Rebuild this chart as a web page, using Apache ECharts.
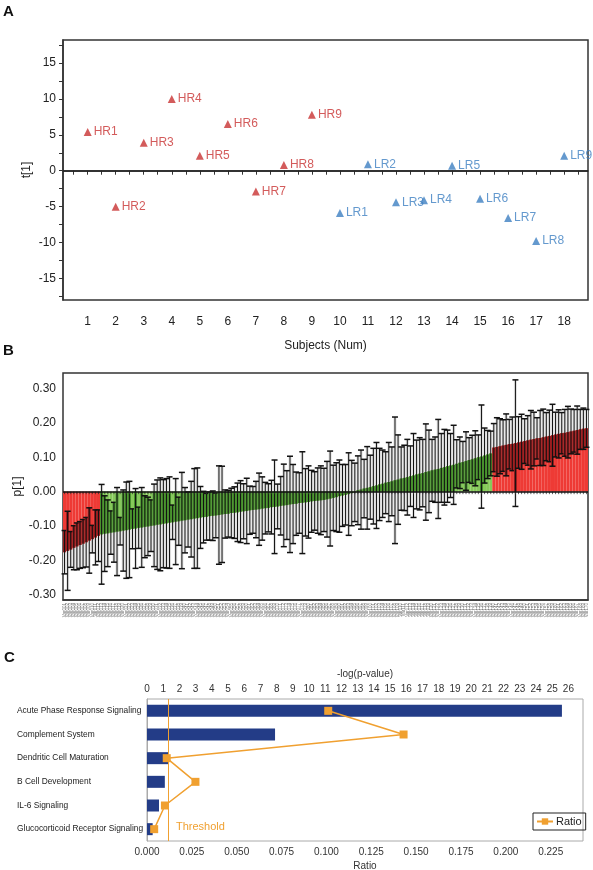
<!DOCTYPE html>
<html><head><meta charset="utf-8">
<script src="https://cdn.jsdelivr.net/npm/echarts@6/dist/echarts.min.js"></script>
<style>html,body{margin:0;padding:0;background:#fff}#c{width:593px;height:870px}</style>
</head><body><div id="c"></div>
<script>
const FONT = 'Liberation Sans, Arial, Helvetica, sans-serif';

// ---------- Panel A: scores ----------
const hrNames = ['HR1','HR2','HR3','HR4','HR5','HR6','HR7','HR8','HR9'];
const hrSubjects = [1,2,3,4,5,6,7,8,9];
const hrScores = [5.4,-5.0,3.9,10.0,2.1,6.5,-2.9,0.8,7.8];
const lrNames = ['LR1','LR2','LR3','LR4','LR5','LR6','LR7','LR8','LR9'];
const lrSubjects = [10,11,12,13,14,15,16,17,18];
const lrScores = [-5.9,0.9,-4.4,-4.1,0.7,-3.9,-6.6,-9.8,2.1];
const subjectLabels = [1,2,3,4,5,6,7,8,9,10,11,12,13,14,15,16,17,18];
const scoreLabels = [-15,-10,-5,0,5,10,15];

// ---------- Panel B: loadings ----------
const loadingValues = [
-0.176,-0.172,-0.168,-0.163,-0.159,-0.155,-0.151,-0.147,-0.142,-0.138,-0.133,-0.128,
-0.124,-0.122,-0.121,-0.119,-0.118,-0.116,-0.115,-0.113,-0.112,-0.110,-0.108,-0.107,-0.105,-0.104,-0.102,-0.101,-0.099,-0.098,-0.096,-0.095,-0.093,-0.092,-0.090,-0.089,-0.087,-0.086,-0.084,-0.083,-0.081,-0.080,-0.078,
-0.077,-0.075,-0.074,-0.073,-0.071,-0.070,-0.069,-0.068,-0.066,-0.065,-0.064,-0.062,-0.061,-0.060,-0.058,-0.057,-0.056,-0.054,-0.053,-0.052,-0.051,-0.049,-0.048,-0.047,-0.045,-0.044,-0.043,-0.041,-0.040,-0.039,-0.037,-0.036,-0.035,-0.033,-0.032,-0.031,-0.030,-0.028,-0.027,-0.026,-0.025,-0.024,
-0.022,-0.020,-0.018,-0.016,-0.013,-0.011,-0.009,-0.007,-0.004,-0.002,
0.004,0.006,0.009,0.011,0.013,0.016,0.018,0.021,0.023,0.026,0.028,0.030,0.033,0.035,0.038,0.040,0.042,0.045,0.047,0.050,0.052,0.054,0.057,0.059,0.062,0.064,0.066,0.069,0.071,0.074,0.076,0.078,
0.081,0.084,0.086,0.089,0.092,0.094,0.097,0.100,0.102,0.105,0.108,0.111,
0.128,0.130,0.132,0.134,0.136,0.138,0.139,0.141,0.143,0.145,0.147,0.149,0.151,0.153,0.155,0.156,0.158,0.160,0.162,0.164,0.166,0.168,0.170,0.171,0.173,0.175,0.177,0.179,0.181,0.183,0.184
];
const loadingErrors = [
0.063,0.115,0.052,0.064,0.068,0.068,0.070,0.072,0.095,0.040,0.080,0.075,
0.145,0.110,0.097,0.063,0.087,0.128,0.040,0.118,0.140,0.140,0.058,0.116,0.060,0.116,0.090,0.085,0.075,0.120,0.130,0.135,0.128,0.130,0.133,0.050,0.125,0.070,0.140,0.095,0.080,0.110,0.145,
0.146,0.090,0.075,0.068,0.070,0.072,0.065,0.143,0.140,0.070,0.068,0.072,0.075,0.085,0.090,0.080,0.095,0.070,0.068,0.082,0.105,0.092,0.075,0.070,0.078,0.136,0.065,0.085,0.120,0.100,0.140,0.115,0.092,0.088,0.148,0.098,0.105,0.090,0.085,0.095,0.100,0.092,
0.110,0.138,0.095,0.100,0.105,0.090,0.088,0.120,0.095,0.085,
0.100,0.115,0.085,0.120,0.093,0.110,0.125,0.105,0.098,0.090,0.115,0.100,0.184,0.130,0.092,0.095,0.110,0.088,0.122,0.100,0.105,0.098,0.140,0.120,0.090,0.095,0.144,0.100,0.110,0.105,0.093,0.115,
0.070,0.075,0.060,0.085,0.065,0.070,0.080,0.065,0.150,0.080,0.070,0.065,
0.070,0.085,0.080,0.075,0.090,0.072,0.078,0.184,0.075,0.080,0.065,0.072,0.085,0.078,0.060,0.080,0.082,0.070,0.075,0.090,0.065,0.070,0.060,0.068,0.075,0.065,0.062,0.070,0.058,0.060,0.055
];
const redLeftCount = 12;
const redRightCount = 31;
const loadingLabels = [-0.30,-0.20,-0.10,0.00,0.10,0.20,0.30];

// ---------- Panel C: pathways ----------
const pathways = ['Acute Phase Response Signaling','Complement System','Dendritic Cell Maturation','B Cell Development','IL-6 Signaling','Glucocorticoid Receptor Signaling'];
const negLogP = [25.6, 7.9, 1.3, 1.1, 0.74, 0.35];
const ratios = [0.101, 0.143, 0.011, 0.027, 0.010, 0.004];
const thresholdValue = 1.3;
const logLabels = [0,1,2,3,4,5,6,7,8,9,10,11,12,13,14,15,16,17,18,19,20,21,22,23,24,25,26];
const ratioLabels = [0,0.025,0.05,0.075,0.1,0.125,0.15,0.175,0.2,0.225];

// ---------- build ----------
const N = loadingValues.length;
const varNames = loadingValues.map((_, i) => 'Var' + String(i + 1).padStart(3, '0'));
const isRed = i => i < redLeftCount || i >= N - redRightCount;
const BRIGHT_RED = '#ee3a35', DARK_RED = '#961d1f';
const BRIGHT_GREEN = '#86c95a', DARK_GREEN = '#468f2c';

const tickA_x = []; for (let k = 1; k <= 37; k++) tickA_x.push(k * 0.5);
const tickA_y = []; for (let k = -7; k <= 7; k++) tickA_y.push(k * 2.5);
const tickB_y = []; for (let k = -15; k <= 17; k++) tickB_y.push(+(k * 0.02).toFixed(2));

const errData = loadingValues.map((v, i) => [i, v, loadingErrors[i]]);

function grayRender(params, api) {
  const i = api.value(0), v = api.value(1), e = api.value(2);
  const bw = api.size([1, 0])[0];
  const cx = api.coord([i, 0])[0];
  const yHi = api.coord([i, v + e])[1], yLo = api.coord([i, v - e])[1];
  return { type: 'rect', shape: { x: cx - bw / 2, y: yHi, width: bw, height: yLo - yHi },
           style: { fill: '#e3e3e3' } };
}
function whiskerRender(params, api) {
  const i = api.value(0), v = api.value(1), e = api.value(2);
  const lo = v - e, hi = v + e;
  const bw = api.size([1, 0])[0];
  const cx = api.coord([i, 0])[0];
  const y0 = api.coord([i, 0])[1];
  const yHi = api.coord([i, hi])[1], yLo = api.coord([i, lo])[1];
  const children = [];
  const a = Math.max(Math.min(0, v), lo), b = Math.min(Math.max(0, v), hi);
  if (b > a) {
    const ya = api.coord([i, a])[1], yb = api.coord([i, b])[1];
    children.push({ type: 'rect', shape: { x: cx - bw / 2, y: yb, width: bw, height: ya - yb },
      style: { fill: isRed(i) ? DARK_RED : DARK_GREEN } });
  }
  children.push({ type: 'line', shape: { x1: cx, y1: yHi, x2: cx, y2: yLo }, style: { stroke: '#111', lineWidth: 1 } });
  children.push({ type: 'line', shape: { x1: cx - 3, y1: yHi, x2: cx + 3, y2: yHi }, style: { stroke: '#111', lineWidth: 1.5 } });
  children.push({ type: 'line', shape: { x1: cx - 3, y1: yLo, x2: cx + 3, y2: yLo }, style: { stroke: '#111', lineWidth: 1.5 } });
  children.push({ type: 'line', shape: { x1: cx, y1: y0, x2: cx, y2: y0 + 2.5 }, style: { stroke: '#333', lineWidth: 0.8 } });
  return { type: 'group', children };
}

const axisText = { color: '#222', fontSize: 12, fontFamily: FONT };

const option = {
  animation: false,
  backgroundColor: '#fff',
  textStyle: { fontFamily: FONT },
  graphic: [
    { type: 'text', left: 3, top: 4, style: { text: 'A', font: 'bold 15px ' + FONT, fill: '#111' } },
    { type: 'text', left: 3, top: 343, style: { text: 'B', font: 'bold 15px ' + FONT, fill: '#111' } },
    { type: 'text', left: 4, top: 650, style: { text: 'C', font: 'bold 15px ' + FONT, fill: '#111' } },
    { type: 'text', left: 176, top: 821, style: { text: 'Threshold', font: '11px ' + FONT, fill: '#f0a030' } }
  ],
  legend: {
    data: ['Ratio'], left: 533, top: 813, orient: 'horizontal',
    borderColor: '#222', borderWidth: 1, padding: [3, 4, 3, 3], itemGap: 4,
    itemWidth: 16, itemHeight: 8, textStyle: { fontSize: 11, color: '#222', fontFamily: FONT, padding: [0,0,0,-2] }
  },
  grid: [
    { left: 63, top: 40, width: 525, height: 260, show: true, borderColor: '#333', borderWidth: 1.5, containLabel: false, outerBoundsMode: 'none' },
    { left: 63, top: 373, width: 525, height: 227, show: true, borderColor: '#333', borderWidth: 1.5, containLabel: false, outerBoundsMode: 'none' },
    { left: 147, top: 699, width: 436, height: 142, show: true, borderColor: '#aaa', borderWidth: 1, containLabel: false, outerBoundsMode: 'none' }
  ],
  xAxis: [
    { gridIndex: 0, type: 'value', min: 0.12, max: 18.85,
      name: 'Subjects (Num)', nameLocation: 'middle', nameGap: 40, nameMoveOverlap: false, nameTextStyle: axisText,
      axisLine: { lineStyle: { color: '#333', width: 1.5 } },
      axisTick: { customValues: tickA_x, length: 4, lineStyle: { color: '#333', width: 1 } },
      axisLabel: { customValues: subjectLabels, margin: 16, ...axisText },
      splitLine: { show: false } },
    { gridIndex: 1, type: 'category', data: varNames, boundaryGap: true,
      axisLine: { onZero: false, lineStyle: { color: '#333', width: 1.5 } },
      axisTick: { show: false },
      axisLabel: { interval: 0, rotate: 90, fontSize: 4.5, color: '#777', margin: 3, fontFamily: FONT },
      splitLine: { show: false } },
    { gridIndex: 2, type: 'value', position: 'top', min: 0, max: 26.9,
      name: '-log(p-value)', nameLocation: 'middle', nameGap: 20, nameMoveOverlap: false, nameTextStyle: { fontSize: 10, color: '#333', fontFamily: FONT },
      axisLine: { lineStyle: { color: '#aaa' } },
      axisTick: { customValues: logLabels, length: 3, lineStyle: { color: '#888' } },
      axisLabel: { customValues: logLabels, fontSize: 10, color: '#333', margin: 5, fontFamily: FONT },
      splitLine: { show: false } },
    { gridIndex: 2, type: 'value', position: 'bottom', min: 0, max: 0.243,
      name: 'Ratio', nameLocation: 'middle', nameGap: 20, nameMoveOverlap: false, nameTextStyle: { fontSize: 10, color: '#333', fontFamily: FONT },
      axisLine: { lineStyle: { color: '#aaa' } },
      axisTick: { customValues: ratioLabels, length: 3, lineStyle: { color: '#888' } },
      axisLabel: { customValues: ratioLabels, fontSize: 10, color: '#333', margin: 6, fontFamily: FONT,
                   formatter: v => v.toFixed(3) },
      splitLine: { show: false } }
  ],
  yAxis: [
    { gridIndex: 0, type: 'value', min: -18, max: 18.2,
      name: 't[1]', nameLocation: 'middle', nameGap: 30, nameMoveOverlap: false, nameTextStyle: axisText,
      axisLine: { lineStyle: { color: '#333', width: 1.5 } },
      axisTick: { customValues: tickA_y, length: 4, lineStyle: { color: '#333' } },
      axisLabel: { customValues: scoreLabels, margin: 7, ...axisText },
      splitLine: { show: false } },
    { gridIndex: 1, type: 'value', min: -0.315, max: 0.345,
      name: 'p[1]', nameLocation: 'middle', nameGap: 39, nameMoveOverlap: false, nameTextStyle: axisText,
      axisLine: { lineStyle: { color: '#333', width: 1.5 } },
      axisTick: { customValues: tickB_y, length: 3, lineStyle: { color: '#333' } },
      axisLabel: { customValues: loadingLabels, margin: 7, ...axisText, formatter: v => v.toFixed(2) },
      splitLine: { show: false } },
    { gridIndex: 2, type: 'category', data: pathways, inverse: true,
      axisLine: { lineStyle: { color: '#aaa' } },
      axisTick: { show: false },
      axisLabel: { fontSize: 8.4, color: '#222', margin: 130, align: 'left', fontFamily: FONT },
      splitLine: { show: false } }
  ],
  series: [
    { name: 'HR', type: 'scatter', xAxisIndex: 0, yAxisIndex: 0,
      data: hrSubjects.map((x, i) => [x, hrScores[i], hrNames[i]]),
      symbol: 'triangle', symbolSize: 8, itemStyle: { color: '#c83232' },
      label: { show: true, position: 'right', distance: 2, formatter: p => p.value[2], color: '#c83232', fontSize: 12, fontFamily: FONT },
      markLine: { silent: true, symbol: 'none', label: { show: false },
        lineStyle: { color: '#222', width: 1.5, type: 'solid' }, data: [{ yAxis: 0 }] } },
    { name: 'LR', type: 'scatter', xAxisIndex: 0, yAxisIndex: 0,
      data: lrSubjects.map((x, i) => [x, lrScores[i], lrNames[i]]),
      symbol: 'triangle', symbolSize: 8, itemStyle: { color: '#3d80c2' },
      label: { show: true, position: 'right', distance: 2, formatter: p => p.value[2], color: '#3d80c2', fontSize: 12, fontFamily: FONT } },
    { name: 'ci', type: 'custom', xAxisIndex: 1, yAxisIndex: 1, z: 1, silent: true,
      data: errData, encode: { x: 0, y: 1 }, renderItem: grayRender },
    { name: 'p1', type: 'bar', xAxisIndex: 1, yAxisIndex: 1, z: 2, barCategoryGap: '0%', silent: true,
      data: loadingValues.map((v, i) => ({ value: v, itemStyle: { color: isRed(i) ? BRIGHT_RED : BRIGHT_GREEN } })),
      markLine: { silent: true, symbol: 'none', label: { show: false }, z: 10,
        lineStyle: { color: '#111', width: 1.5, type: 'solid' }, data: [{ yAxis: 0 }] } },
    { name: 'err', type: 'custom', xAxisIndex: 1, yAxisIndex: 1, z: 3, silent: true,
      data: errData, encode: { x: 0, y: 1 }, renderItem: whiskerRender },
    { name: '-log(p-value)', type: 'bar', xAxisIndex: 2, yAxisIndex: 2, barWidth: 12,
      data: negLogP, itemStyle: { color: '#233c87' },
      markLine: { silent: true, symbol: 'none', label: { show: false },
        lineStyle: { color: '#f0a030', width: 1, type: 'solid' }, data: [{ xAxis: thresholdValue }] } },
    { name: 'Ratio', type: 'line', xAxisIndex: 3, yAxisIndex: 2,
      data: ratios, symbol: 'rect', symbolSize: 8,
      lineStyle: { color: '#f0a030', width: 1.5 }, itemStyle: { color: '#f0a030' } }
  ]
};
echarts.init(document.getElementById('c'), null, { renderer: 'canvas' }).setOption(option);
</script></body></html>
